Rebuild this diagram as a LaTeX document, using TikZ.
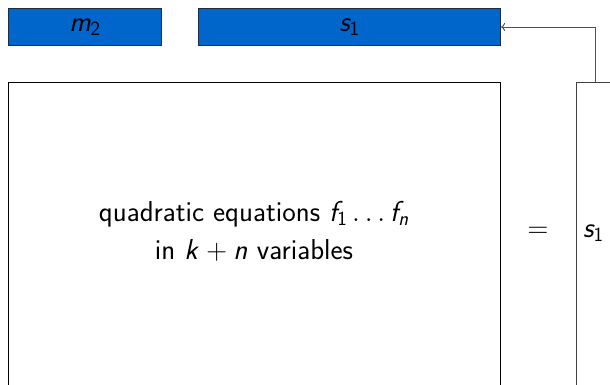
\RequirePackage{fix-cm}
\documentclass[tikz,border=0pt]{standalone}
\usetikzlibrary{arrows.meta}
\DeclareMathAlphabet{\mathsfsl}{OT1}{cmss}{m}{sl}
\DeclareSymbolFont{sfop}{OT1}{cmss}{m}{n}
\DeclareMathSymbol{\sfone}{\mathalpha}{sfop}{`1}
\DeclareMathSymbol{\sftwo}{\mathalpha}{sfop}{`2}
\definecolor{boxblue}{RGB}{0,102,204}
\definecolor{boxedge}{RGB}{25,45,70}
\definecolor{lineg}{RGB}{80,80,80}
\tikzset{
  bluebox/.style={draw=boxedge, fill=boxblue, line width=1pt, inner sep=0pt},
  whitebox/.style={draw=black, line width=1pt, fill=white, inner sep=0pt},
  lbl/.style={inner sep=0pt, font=\fontsize{28.8}{38}\selectfont\sffamily},
  conn/.style={draw=lineg, line width=0.9pt, -{To[length=4pt,width=8pt]}}
}
\begin{document}
\begin{tikzpicture}[x=1pt,y=1pt]
\useasboundingbox (0,0) rectangle (610,384);
\clip (0,0) rectangle (610,384);
\fill[white] (0,0) rectangle (610,384);
% top blue boxes
\node[bluebox, minimum width=153pt, minimum height=37pt, anchor=north west] (m2) at (8,376) {};
\node[lbl] (m2t) at (m2.center) {$\mathsfsl{m}_{\sftwo}$};
\node[bluebox, minimum width=302pt, minimum height=37pt, anchor=north west] (s1box) at (198,376) {};
\node[lbl] (s1t) at (s1box.center) {$\mathsfsl{s}_{\sfone}$};
% big box
\node[whitebox, minimum width=492pt, minimum height=330pt, anchor=north west] (eqs) at (8,302) {};
\node[lbl, align=center] (eqst) at (254,153) {quadratic equations $\mathsfsl{f}_{\sfone}\ldots\mathsfsl{f}_{\mathsfsl{n}}$\\ in $\mathsfsl{k}+\mathsfsl{n}$ variables};
% equals
\node[lbl] (eq) at (538,152) {$=$};
% right box
\node[whitebox, draw=black!75, minimum width=80pt, minimum height=330pt, anchor=north west] (vec) at (576,302) {};
\node[lbl, anchor=west] (vect) at (583,151) {$\mathsfsl{s}_{\sfone}$};
% connector
\coordinate (up) at (595,357);
\draw[conn] (vec.north west -| up) -- (up) -- (s1box.east |- up);
\end{tikzpicture}
\end{document}
